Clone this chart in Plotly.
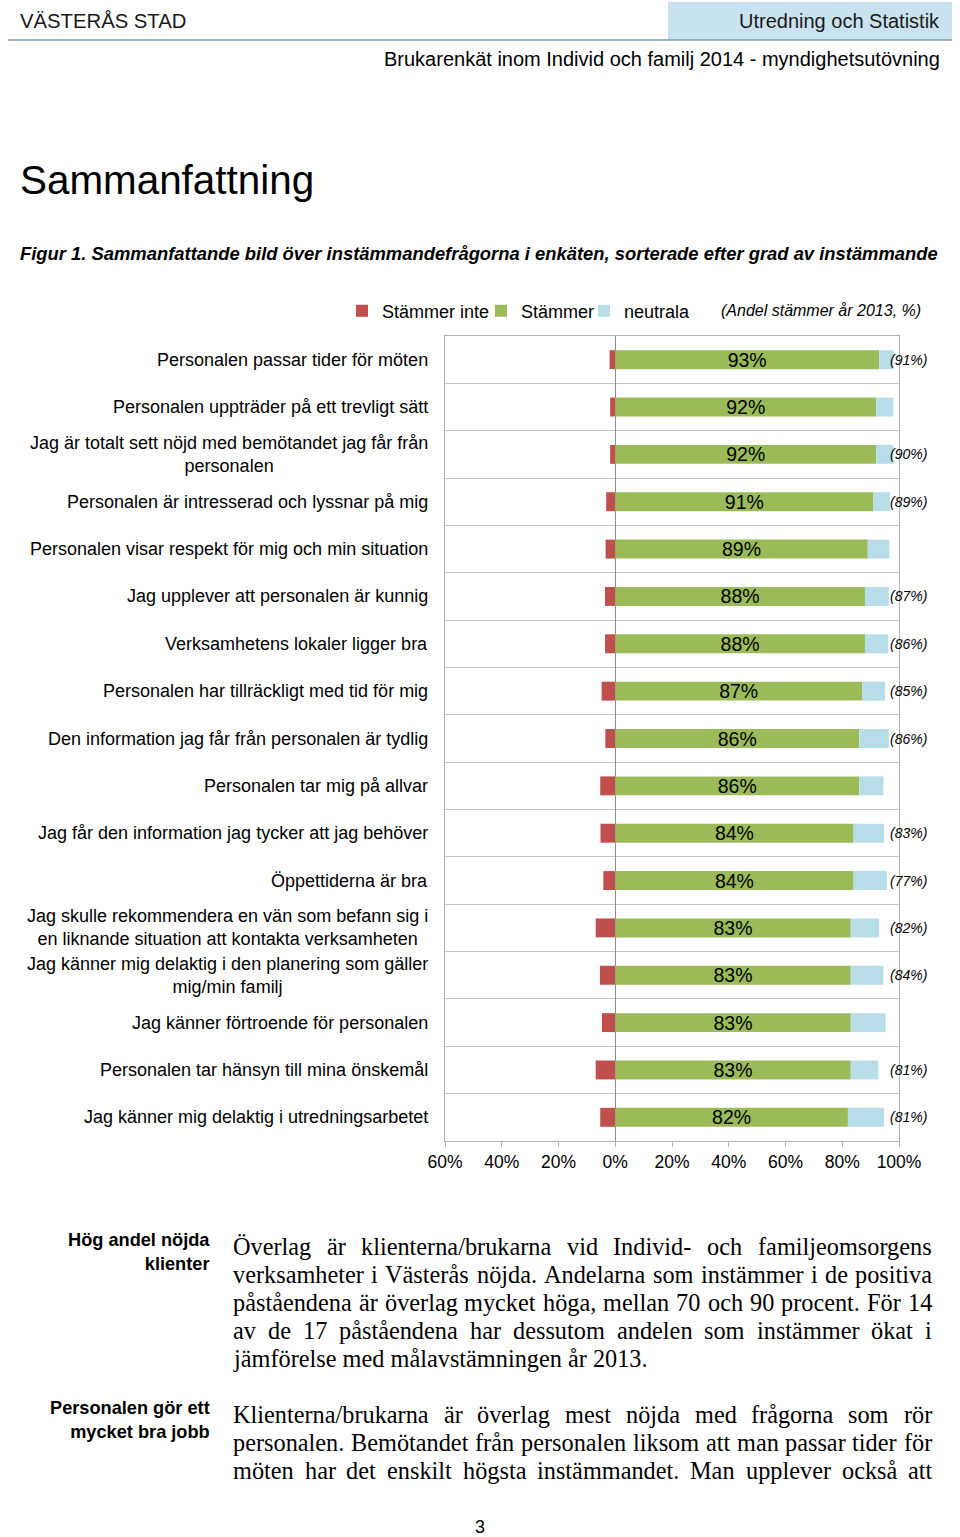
import plotly.graph_objects as go

W, H = 960, 1537

categories = [
    "Personalen passar tider för möten",
    "Personalen uppträder på ett trevligt sätt",
    "Jag är totalt sett nöjd med bemötandet jag får från<br>personalen",
    "Personalen är intresserad och lyssnar på mig",
    "Personalen visar respekt för mig och min situation",
    "Jag upplever att personalen är kunnig",
    "Verksamhetens lokaler ligger bra",
    "Personalen har tillräckligt med tid för mig",
    "Den information jag får från personalen är tydlig",
    "Personalen tar mig på allvar",
    "Jag får den information jag tycker att jag behöver",
    "Öppettiderna är bra",
    "Jag skulle rekommendera en vän som befann sig i<br>en liknande situation att kontakta verksamheten",
    "Jag känner mig delaktig i den planering som gäller<br>mig/min familj",
    "Jag känner förtroende för personalen",
    "Personalen tar hänsyn till mina önskemål",
    "Jag känner mig delaktig i utredningsarbetet",
]
stammer = [93, 92, 92, 91, 89, 88, 88, 87, 86, 86, 84, 84, 83, 83, 83, 83, 82]
stammer_inte = [2.0, 1.8, 1.8, 3.2, 3.4, 3.6, 3.6, 4.8, 3.5, 5.3, 5.2, 4.2, 6.9, 5.4, 4.7, 6.9, 5.3]
neutrala = [5.0, 6.0, 6.0, 5.8, 7.6, 8.4, 8.2, 8.1, 10.4, 8.5, 10.7, 11.7, 10.0, 11.5, 12.3, 9.7, 12.7]
andel_2013 = [91, None, 90, 89, None, 87, 86, 85, 86, None, 83, 77, 82, 84, None, 81, 81]
x_tick_vals = [-60, -40, -20, 0, 20, 40, 60, 80, 100]
x_tick_text = ["60%", "40%", "20%", "0%", "20%", "40%", "60%", "80%", "100%"]

para1 = [
    "Överlag är klienterna/brukarna vid Individ- och familjeomsorgens",
    "verksamheter i Västerås nöjda. Andelarna som instämmer i de positiva",
    "påståendena är överlag mycket höga, mellan 70 och 90 procent. För 14",
    "av de 17 påståendena har dessutom andelen som instämmer ökat i",
    "jämförelse med målavstämningen år 2013.",
]
para2 = [
    "Klienterna/brukarna är överlag mest nöjda med frågorna som rör",
    "personalen. Bemötandet från personalen liksom att man passar tider för",
    "möten har det enskilt högsta instämmandet. Man upplever också att",
]

SANS = "Liberation Sans, Arial, sans-serif"
SERIF = "Liberation Serif, Times New Roman, serif"
RED, GREEN, BLUE = "#C0504D", "#9BBB59", "#B7DEE8"


def px(x):
    return x / W


def py(y):
    return 1 - y / H


rows = list(range(len(categories)))

fig = go.Figure()
fig.add_trace(go.Bar(
    y=rows, x=[-v for v in stammer_inte], orientation="h", name="Stämmer inte",
    marker=dict(color=RED, line=dict(width=0)), legend="legend", showlegend=True,
))
fig.add_trace(go.Bar(
    y=rows, x=stammer, orientation="h", name="Stämmer",
    marker=dict(color=GREEN, line=dict(width=0)), legend="legend2", showlegend=True,
    text=[f"{v}%" for v in stammer], textposition="inside", insidetextanchor="middle",
    textangle=0, constraintext="none",
    textfont=dict(family=SANS, size=19.5, color="#000000"),
))
fig.add_trace(go.Bar(
    y=rows, x=neutrala, orientation="h", name="neutrala",
    marker=dict(color=BLUE, line=dict(width=0)), legend="legend3", showlegend=True,
))

annotations = []
for r, lab in zip(rows, categories):
    annotations.append(dict(
        x=px(430), xref="paper", y=r, yref="y", text=lab, showarrow=False,
        xanchor="right", yanchor="middle", align="center",
        font=dict(family=SANS, size=18, color="#000000"),
    ))
for r, v in zip(rows, andel_2013):
    if v is None:
        continue
    annotations.append(dict(
        x=px(908), xref="paper", y=r, yref="y", text=f"<i>({v}%)</i>", showarrow=False,
        xanchor="center", yanchor="middle",
        font=dict(family=SANS, size=14, color="#000000"),
    ))

annotations.append(dict(
    x=px(719), xref="paper", y=py(311), yref="paper", text="<i>(Andel stämmer år 2013, %)</i>",
    showarrow=False, xanchor="left", yanchor="middle",
    font=dict(family=SANS, size=16, color="#000000"),
))


def txt(x, y, s, size, anchor="left", family=SANS, color="#000000"):
    annotations.append(dict(
        x=px(x), xref="paper", y=py(y), yref="paper", text=s, showarrow=False,
        xanchor=anchor, yanchor="middle", font=dict(family=family, size=size, color=color),
    ))


txt(18, 21, "VÄSTERÅS STAD", 20.3, color="#1a1a1a")
txt(942, 21, "Utredning och Statistik", 20, anchor="right", color="#1a1a1a")
txt(942, 59, "Brukarenkät inom Individ och familj 2014 - myndighetsutövning", 20, anchor="right")
txt(18, 180, "Sammanfattning", 40.4)
txt(18, 254, "<b><i>Figur 1. Sammanfattande bild över instämmandefrågorna i enkäten, sorterade efter grad av instämmande</i></b>", 18.4)
annotations.append(dict(
    x=px(212), xref="paper", y=py(1252), yref="paper", text="<b>Hög andel nöjda<br>klienter</b>",
    showarrow=False, xanchor="right", yanchor="middle", align="right",
    font=dict(family=SANS, size=18.2, color="#000000"),
))
annotations.append(dict(
    x=px(212), xref="paper", y=py(1420), yref="paper", text="<b>Personalen gör ett<br>mycket bra jobb</b>",
    showarrow=False, xanchor="right", yanchor="middle", align="right",
    font=dict(family=SANS, size=18.2, color="#000000"),
))
txt(480, 1527, "3", 18, anchor="center")

# justified serif body text (Times metrics)
TW = {
    'a': .444, 'b': .5, 'c': .444, 'd': .5, 'e': .444, 'f': .333, 'g': .5, 'h': .5, 'i': .278,
    'j': .278, 'k': .5, 'l': .278, 'm': .778, 'n': .5, 'o': .5, 'p': .5, 'q': .5, 'r': .333,
    's': .389, 't': .278, 'u': .5, 'v': .5, 'w': .722, 'x': .5, 'y': .5, 'z': .444,
    'å': .444, 'ä': .444, 'ö': .5,
    'A': .722, 'B': .667, 'C': .667, 'D': .722, 'E': .611, 'F': .556, 'G': .722, 'H': .722,
    'I': .333, 'J': .389, 'K': .722, 'L': .611, 'M': .889, 'N': .722, 'O': .722, 'P': .556,
    'Q': .722, 'R': .667, 'S': .556, 'T': .611, 'U': .722, 'V': .722, 'W': .944, 'X': .722,
    'Y': .722, 'Z': .611, 'Ö': .722, 'Ä': .722, 'Å': .722,
    '.': .25, ',': .25, '-': .333, '/': .278, ' ': .25,
}
BODY_SIZE = 24.3
BODY_L, BODY_R = 233, 932


def tw(s):
    return sum(TW.get(c, .5) for c in s) * BODY_SIZE


def body_line(line, y, justify):
    words = line.split(" ")
    if not justify or len(words) < 2:
        txt(BODY_L - 2, y, line, BODY_SIZE, family=SERIF)
        return
    total = sum(tw(w) for w in words)
    gap = (BODY_R - BODY_L - total) / (len(words) - 1)
    x = BODY_L
    for w in words:
        txt(x - 2, y, w, BODY_SIZE, family=SERIF)
        x += tw(w) + gap


for i, line in enumerate(para1):
    body_line(line, 1246 + 28 * i, i < len(para1) - 1)
for i, line in enumerate(para2):
    body_line(line, 1414 + 28 * i, True)

shapes = [
    dict(type="rect", xref="paper", yref="paper", x0=px(668), x1=px(952), y0=py(40), y1=py(2),
         fillcolor="#C9E2F0", line=dict(width=0), layer="below"),
    dict(type="line", xref="paper", yref="paper", x0=px(8), x1=px(952), y0=py(40), y1=py(40),
         line=dict(color="#7F9DB0", width=1.5)),
]


def leg(x):
    return dict(orientation="h", x=px(x), xanchor="left", y=py(311), yanchor="middle",
                font=dict(family=SANS, size=18, color="#000000"), itemwidth=30,
                bgcolor="rgba(0,0,0,0)")


GRID = "#C6C6C6"
fig.update_layout(
    width=W, height=H, autosize=False,
    margin=dict(l=0, r=0, t=0, b=0, pad=0),
    paper_bgcolor="white", plot_bgcolor="white",
    barmode="relative", bargap=0.6,
    showlegend=True,
    legend=leg(342), legend2=leg(481), legend3=leg(584),
    xaxis=dict(domain=[px(445), px(899)], range=[-60, 100], tickvals=x_tick_vals,
               ticktext=x_tick_text, showgrid=False, zeroline=True, zerolinecolor="#8C8C8C",
               zerolinewidth=1, showline=True, linecolor="#B3B3B3", mirror=True,
               ticks="outside", ticklen=5, tickcolor="#B3B3B3", automargin=False,
               tickfont=dict(family=SANS, size=17.5, color="#000000"), fixedrange=True),
    yaxis=dict(domain=[py(1141), py(336)], range=[16.5, -0.5], showticklabels=False,
               tickmode="linear", tick0=0, dtick=1, showgrid=False, zeroline=False,
               showline=True, linecolor="#B3B3B3", mirror=True, ticks="", automargin=False,
               minor=dict(tick0=0.5, dtick=1, showgrid=True, gridcolor=GRID, gridwidth=1.2, ticks=""),
               fixedrange=True),
    annotations=annotations,
    shapes=shapes,
    font=dict(family=SANS),
)

fig.write_html(
    "out.html",
    config={"responsive": False, "displayModeBar": False},
    post_script="document.body.style.margin='0';document.body.style.padding='0';"
                "document.documentElement.style.overflow='hidden';document.body.style.overflow='hidden';",
)
